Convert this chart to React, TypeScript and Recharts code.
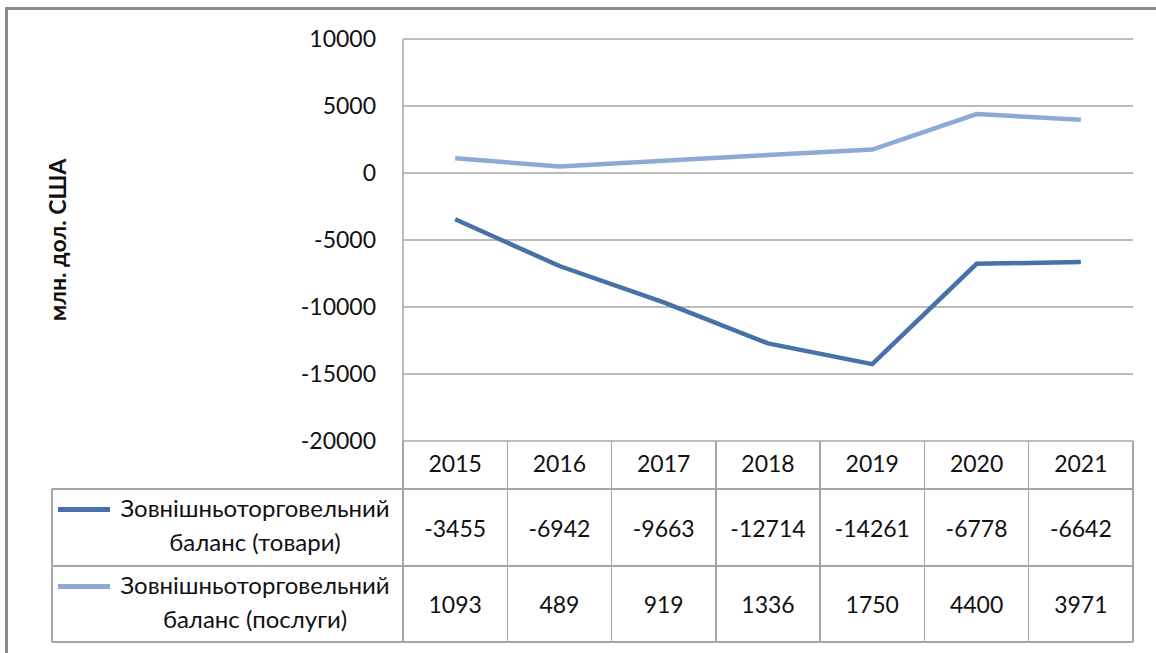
import { CartesianGrid, Line, LineChart, XAxis, YAxis } from "recharts";

const years = ["2015", "2016", "2017", "2018", "2019", "2020", "2021"];
const goods = [-3455, -6942, -9663, -12714, -14261, -6778, -6642];
const services = [1093, 489, 919, 1336, 1750, 4400, 3971];
const yTicks = [10000, 5000, 0, -5000, -10000, -15000, -20000];
const goodsLabel = ["Зовнішньоторговельний", "баланс (товари)"];
const servicesLabel = ["Зовнішньоторговельний", "баланс (послуги)"];
const yTitle = "млн. дол. США";

const data = years.map((year, i) => ({ year, goods: goods[i], services: services[i] }));

const font = "Lato, 'Open Sans', sans-serif";
const gridColor = "#A6A6A6";
const goodsColor = "#4672A8";
const servicesColor = "#8EA9D5";

// layout of the plot + data table
const W = 1156;
const H = 653;
const plotLeft = 403;
const plotRight = 1133;
const plotTop = 39;
const plotBottom = 441;
const tableLeft = 52;
const rowTops = [441, 489, 566, 642];
const colW = (plotRight - plotLeft) / years.length;

function HLine({ x1, x2, y }: { x1: number; x2: number; y: number }) {
  return <div style={{ position: "absolute", left: x1, top: y - 0.75, width: x2 - x1, height: 1.5, background: gridColor }} />;
}

function VLine({ x, y1, y2 }: { x: number; y1: number; y2: number }) {
  return <div style={{ position: "absolute", left: x - 0.75, top: y1, width: 1.5, height: y2 - y1, background: gridColor }} />;
}

function Cell({ x, y, w, h, children }: { x: number; y: number; w: number; h: number; children: React.ReactNode }) {
  return (
    <div style={{ position: "absolute", left: x, top: y, width: w, height: h, display: "flex", alignItems: "center", justifyContent: "center", fontSize: 23, color: "#111", textAlign: "center" }}>
      {children}
    </div>
  );
}

function LegendCell({ top, label, color }: { top: number; label: string[]; color: string }) {
  return (
    <>
      <div style={{ position: "absolute", left: 58, top: top + 18, width: 52, height: 4.5, background: color }} />
      <div style={{ position: "absolute", left: 110, top: top + 2, width: 290, fontSize: 24, lineHeight: "34px", color: "#111", textAlign: "center" }}>
        {label.map((l) => <div key={l}>{l}</div>)}
      </div>
    </>
  );
}

export default function App() {
  const rows = [goods, services];
  return (
    <div style={{ position: "absolute", left: 0, top: 0, width: W, height: H, overflow: "hidden", background: "#fff", fontFamily: font }}>
      <div style={{ position: "absolute", left: 5, top: 7, width: W + 40, height: H + 40, borderTop: "3px solid #8C8C8C", borderLeft: "3px solid #8C8C8C" }} />
      <div style={{ position: "absolute", left: 0, top: 0 }}>
        <LineChart width={W} height={489} data={data} margin={{ top: plotTop, right: W - plotRight, bottom: 0, left: 0 }}>
          <CartesianGrid vertical={false} stroke={gridColor} strokeWidth={1.5} />
          <XAxis dataKey="year" height={489 - plotBottom} padding={{ left: colW / 2, right: colW / 2 }} axisLine={false} tickLine={false} tickSize={0} tickMargin={15} tick={{ fontSize: 23, fill: "#111", fontFamily: font }} interval={0} />
          <YAxis
            width={plotLeft}
            domain={[-20000, 10000]}
            ticks={yTicks}
            interval={0}
            axisLine={{ stroke: gridColor, strokeWidth: 1.5 }}
            tickLine={false}
            tickSize={0}
            tickMargin={27}
            tick={{ fontSize: 23, fill: "#111", fontFamily: font }}
            label={{
              content: ({ viewBox }: any) => {
                const cy = viewBox.y + viewBox.height / 2;
                return (
                  <text x={57} y={cy} transform={`rotate(-90 57 ${cy})`} textAnchor="middle" dominantBaseline="central" fontSize={23} fontWeight="bold" fontFamily={font} fill="#111">
                    {yTitle}
                  </text>
                );
              },
            }}
          />
          <Line dataKey="goods" stroke={goodsColor} strokeWidth={4.5} dot={false} isAnimationActive={false} />
          <Line dataKey="services" stroke={servicesColor} strokeWidth={4.5} dot={false} isAnimationActive={false} />
        </LineChart>
      </div>

      {/* data table under the plot */}
      {rowTops.slice(1).map((y) => <HLine key={y} x1={tableLeft} x2={plotRight} y={y} />)}
      <VLine x={tableLeft} y1={rowTops[1]} y2={rowTops[3]} />
      {years.map((_, k) => <VLine key={k} x={plotLeft + k * colW} y1={rowTops[0]} y2={rowTops[3]} />)}
      <VLine x={plotRight} y1={rowTops[0]} y2={rowTops[3]} />

      <LegendCell top={rowTops[1]} label={goodsLabel} color={goodsColor} />
      <LegendCell top={rowTops[2]} label={servicesLabel} color={servicesColor} />
      {rows.map((vals, r) =>
        vals.map((v, k) => (
          <Cell key={`${r}-${k}`} x={plotLeft + k * colW} y={rowTops[r + 1]} w={colW} h={rowTops[r + 2] - rowTops[r + 1]}>
            {v}
          </Cell>
        ))
      )}
    </div>
  );
}
